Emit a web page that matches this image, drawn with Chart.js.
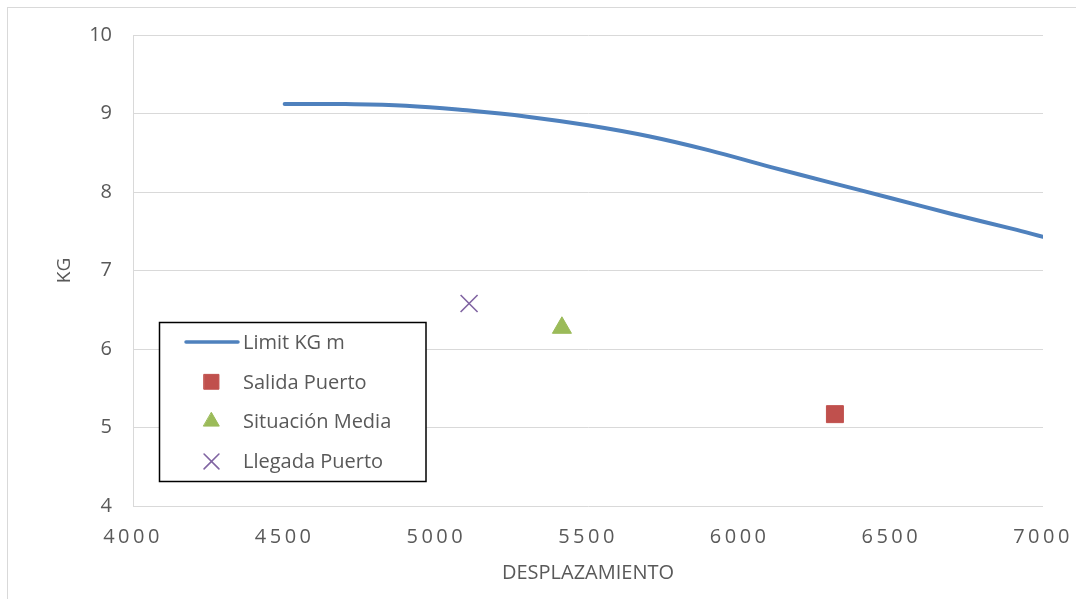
<!DOCTYPE html>
<html>
<head>
<meta charset="utf-8">
<script src="https://cdn.jsdelivr.net/npm/chart.js@4/dist/chart.umd.min.js"></script>
<style>
  html, body { margin: 0; padding: 0; background: #ffffff; }
  #wrap { width: 1076px; height: 599px; position: relative; }
  canvas { display: block; }
</style>
</head>
<body>
<div id="wrap"><canvas id="kg" width="1076" height="599"></canvas></div>
<script>
// Stability limit curve: maximum KG (m) against displacement
const desplazamiento = [4500, 4700, 4900, 5100, 5300, 5500, 5700, 5900, 6100, 6300, 6500, 6700, 6900, 7000];
const limitKG        = [9.12, 9.12, 9.10, 9.04, 8.96, 8.85, 8.71, 8.53, 8.32, 8.12, 7.92, 7.72, 7.53, 7.43];

// Loading conditions (displacement, KG)
const salidaPuerto    = [6314, 5.17];
const situacionMedia  = [5414, 6.27];
const llegadaPuerto   = [5108, 6.58];

// Axis ticks
const xTicks = [4000, 4500, 5000, 5500, 6000, 6500, 7000];
const yTicks = [4, 5, 6, 7, 8, 9, 10];

const TEXT = '#595959';
const FONT = "'Open Sans', 'Liberation Sans', sans-serif";

// Light grey frame around the whole chart
const framePlugin = {
  id: 'frame',
  beforeDraw(chart) {
    const ctx = chart.ctx;
    ctx.save();
    ctx.fillStyle = '#ffffff';
    ctx.fillRect(0, 0, chart.width, chart.height);
    ctx.strokeStyle = '#d9d9d9';
    ctx.lineWidth = 1;
    ctx.strokeRect(7.5, 7.5, chart.width + 20, chart.height + 20);
    ctx.restore();
  }
};

// Wider spacing for the displacement tick labels
const spacedTicksPlugin = {
  id: 'spacedTicks',
  afterUpdate(chart) {
    const s = chart.scales.x;
    if (s && !s._spaced) {
      const orig = s.drawLabels;
      s.drawLabels = function (area) {
        const ctx = this.ctx;
        const prev = ctx.letterSpacing;
        ctx.letterSpacing = '3.5px';
        orig.call(this, area);
        ctx.letterSpacing = prev || '0px';
      };
      s._spaced = true;
    }
  }
};

// Boxed legend inside the plot area
const boxLegendPlugin = {
  id: 'boxLegend',
  afterDraw(chart, args, opts) {
    const ctx = chart.ctx;
    const b = opts.box;
    ctx.save();
    ctx.fillStyle = '#ffffff';
    ctx.fillRect(b.x, b.y, b.w, b.h);
    ctx.strokeStyle = '#000000';
    ctx.lineWidth = 1.5;
    ctx.strokeRect(b.x, b.y, b.w, b.h);
    ctx.font = opts.font;
    ctx.textBaseline = 'middle';
    ctx.textAlign = 'left';
    chart.data.datasets.forEach((ds, i) => {
      const y = opts.firstY + i * opts.rowGap;
      if (ds.showLine) {
        ctx.strokeStyle = ds.borderColor;
        ctx.lineWidth = 3.5;
        ctx.lineCap = 'round';
        ctx.beginPath();
        ctx.moveTo(opts.lineX0, y);
        ctx.lineTo(opts.lineX1, y);
        ctx.stroke();
      } else {
        // drawPoint fills/strokes with the current context styles
        ctx.strokeStyle = ds.pointBorderColor;
        ctx.fillStyle = ds.pointBackgroundColor;
        ctx.lineWidth = ds.pointBorderWidth;
        Chart.helpers.drawPoint(ctx, {
          pointStyle: ds.pointStyle,
          radius: opts.markerRadius[ds.pointStyle] || 10,
          rotation: 0,
          borderWidth: ds.pointBorderWidth
        }, opts.markerX, y);
      }
      ctx.fillStyle = TEXT;
      ctx.fillText(ds.label, opts.textX, y + 1);
    });
    ctx.restore();
  }
};

const toXY = (p) => [{ x: p[0], y: p[1] }];

const datasets = [
  {
    label: 'Limit KG m',
    data: desplazamiento.map((d, i) => ({ x: d, y: limitKG[i] })),
    showLine: true,
    borderColor: '#4f81bd',
    backgroundColor: '#4f81bd',
    borderWidth: 4,
    borderCapStyle: 'round',
    tension: 0.4,
    pointRadius: 0,
    pointHoverRadius: 0
  },
  {
    label: 'Salida Puerto',
    data: toXY(salidaPuerto),
    showLine: false,
    pointStyle: 'rect',
    pointRadius: 12,
    pointBackgroundColor: '#c0504d',
    pointBorderColor: '#c0504d',
    pointBorderWidth: 1
  },
  {
    label: 'Situación Media',
    data: toXY(situacionMedia),
    showLine: false,
    pointStyle: 'triangle',
    pointRadius: 11,
    pointBackgroundColor: '#9bbb59',
    pointBorderColor: '#9bbb59',
    pointBorderWidth: 1
  },
  {
    label: 'Llegada Puerto',
    data: toXY(llegadaPuerto),
    showLine: false,
    pointStyle: 'crossRot',
    pointRadius: 12,
    pointBackgroundColor: '#8064a2',
    pointBorderColor: '#8064a2',
    pointBorderWidth: 1.6
  }
];

new Chart(document.getElementById('kg'), {
  type: 'scatter',
  data: { datasets },
  plugins: [framePlugin, spacedTicksPlugin, boxLegendPlugin],
  options: {
    responsive: false,
    devicePixelRatio: 1,
    animation: false,
    events: [],
    layout: { padding: { left: 0, right: 33, top: 35, bottom: 0 } },
    plugins: {
      legend: { display: false },
      tooltip: { enabled: false },
      boxLegend: {
        box: { x: 159.5, y: 322.5, w: 266.5, h: 159 },
        firstY: 342,
        rowGap: 39.8,
        lineX0: 186,
        lineX1: 238,
        markerX: 211.5,
        textX: 243,
        markerRadius: { rect: 10.5, triangle: 9, crossRot: 10.5 },
        font: "20px " + FONT
      }
    },
    scales: {
      x: {
        type: 'linear',
        min: xTicks[0],
        max: xTicks[xTicks.length - 1],
        afterBuildTicks(scale) { scale.ticks = xTicks.map(v => ({ value: v })); },
        afterFit(scale) {
          scale.height = 93;
          scale.paddingLeft = 0;
          scale.paddingRight = 0;
        },
        grid: { display: false, drawTicks: false },
        border: { display: false },
        ticks: {
          color: TEXT,
          font: { family: FONT, size: 20 },
          padding: 19,
          maxRotation: 0,
          callback: (v) => String(v)
        },
        title: {
          display: true,
          text: 'DESPLAZAMIENTO',
          color: TEXT,
          font: { family: FONT, size: 20 },
          padding: { top: 0, bottom: 14 }
        }
      },
      y: {
        type: 'linear',
        min: yTicks[0],
        max: yTicks[yTicks.length - 1],
        afterBuildTicks(scale) { scale.ticks = yTicks.map(v => ({ value: v })); },
        afterFit(scale) {
          scale.width = 133;
          scale.paddingTop = 0;
          scale.paddingBottom = 0;
        },
        grid: { color: '#d9d9d9', lineWidth: 1, drawTicks: false },
        border: { display: true, color: '#d9d9d9', width: 1 },
        ticks: {
          color: TEXT,
          font: { family: FONT, size: 20 },
          padding: 21,
          callback: (v) => String(v)
        },
        title: {
          display: true,
          text: 'KG',
          color: TEXT,
          font: { family: FONT, size: 19 },
          padding: { top: 53, bottom: 0 }
        }
      }
    }
  }
});
</script>
</body>
</html>
